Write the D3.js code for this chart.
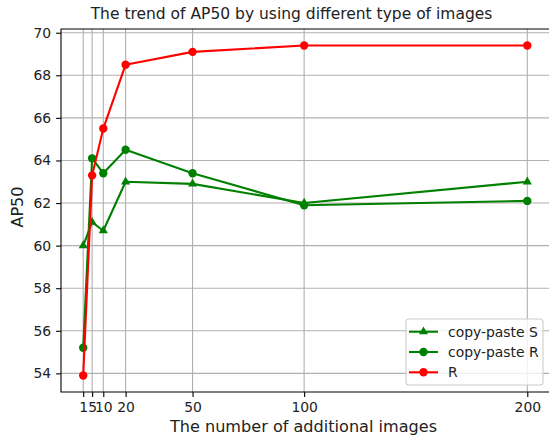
<!DOCTYPE html>
<html><head><meta charset="utf-8">
<script src="https://cdn.jsdelivr.net/npm/d3@7"></script>
<style>body{margin:0;background:#fff}svg{display:block}text{font-family:"DejaVu Sans",sans-serif;fill:#222}</style>
</head><body><svg id="c" width="549" height="436"></svg>
<script>
const xValues = [1, 5, 10, 20, 50, 100, 200];
const xTicks = [1, 5, 10, 20, 50, 100, 200];
const yTicks = [54, 56, 58, 60, 62, 64, 66, 68, 70];
const copyPasteS = [60.0, 61.1, 60.7, 63.0, 62.9, 62.0, 63.0];
const copyPasteR = [55.2, 64.1, 63.4, 64.5, 63.4, 61.9, 62.1];
const realR = [53.9, 63.3, 65.5, 68.5, 69.1, 69.4, 69.4];
const seriesNames = ["copy-paste S", "copy-paste R", "R"];

const svg = d3.select("#c");
const L = 61, R = 549.5, T = 29, B = 392;
const x = d3.scaleLinear().domain([-8.95, 209.95]).range([L, R]);
const y = d3.scaleLinear().domain([53.125, 70.175]).range([B, T]);

// grid
const g = svg.append("g");
g.selectAll(".gx").data(xTicks).enter().append("line")
  .attr("x1", d => x(d)).attr("x2", d => x(d)).attr("y1", T).attr("y2", B)
  .attr("stroke", "#b0b0b0").attr("stroke-width", 1.1);
g.selectAll(".gy").data(yTicks).enter().append("line")
  .attr("x1", L).attr("x2", R).attr("y1", d => y(d)).attr("y2", d => y(d))
  .attr("stroke", "#b0b0b0").attr("stroke-width", 1.1);

// series
const series = [
  {name: seriesNames[0], vals: copyPasteS, color: "#008000", marker: "tri"},
  {name: seriesNames[1], vals: copyPasteR, color: "#008000", marker: "circ"},
  {name: seriesNames[2], vals: realR, color: "#ff0000", marker: "circ"}
];
const line = d3.line().x((d, i) => x(xValues[i])).y(d => y(d));
function drawMarker(sel, type, color) {
  if (type === "circ") {
    sel.append("circle").attr("r", 4.2).attr("fill", color);
  } else {
    sel.append("path").attr("d", d3.symbol(d3.symbolTriangle, 36)()).attr("fill", color);
  }
}
series.forEach(s => {
  svg.append("path").datum(s.vals).attr("d", line).attr("fill", "none")
    .attr("stroke", s.color).attr("stroke-width", 2.1).attr("stroke-linejoin", "round");
  s.vals.forEach((v, i) => {
    const m = svg.append("g").attr("transform", `translate(${x(xValues[i])},${y(v)})`);
    drawMarker(m, s.marker, s.color);
  });
});

// axes
const xAxis = d3.axisBottom(x).tickValues(xTicks).tickSize(4.9).tickPadding(4.9).tickFormat(d3.format("d"));
const yAxis = d3.axisLeft(y).tickValues(yTicks).tickSize(4.9).tickPadding(4.9).tickFormat(d3.format("d"));
const gx = svg.append("g").attr("transform", `translate(0,${B})`).call(xAxis);
const gy = svg.append("g").attr("transform", `translate(${L},0)`).call(yAxis);
[gx, gy].forEach(a => {
  a.select(".domain").remove();
  a.selectAll("line").attr("stroke", "#000").attr("stroke-width", 1.1);
  a.selectAll("text").style("font-family", "DejaVu Sans").style("font-size", "13.9px").attr("fill", "#222");
});
// spines (right spine falls just outside the picture)
svg.append("path").attr("d", `M${R + 5},${T}H${L}V${B}H${R + 5}`)
  .attr("fill", "none").attr("stroke", "#000").attr("stroke-width", 1.1);

// title and labels
svg.append("text").attr("x", 291.5).attr("y", 19).attr("text-anchor", "middle")
  .style("font-size", "15.5px").text("The trend of AP50 by using different type of images");
svg.append("text").attr("x", 303.5).attr("y", 431.5).attr("text-anchor", "middle")
  .style("font-size", "16.1px").text("The number of additional images");
svg.append("text").attr("transform", "translate(23,207) rotate(-90)").attr("text-anchor", "middle")
  .style("font-size", "16.1px").text("AP50");

// legend
const lg = svg.append("g");
lg.append("rect").attr("x", 406).attr("y", 319).attr("width", 137).attr("height", 66).attr("rx", 3)
  .attr("fill", "#fff").attr("fill-opacity", 0.8).attr("stroke", "#cccccc").attr("stroke-width", 1.1);
series.forEach((s, i) => {
  const cy = 331.7 + i * 20.3;
  lg.append("line").attr("x1", 409).attr("x2", 438).attr("y1", cy).attr("y2", cy)
    .attr("stroke", s.color).attr("stroke-width", 2.1);
  const m = lg.append("g").attr("transform", `translate(423.5,${cy})`);
  drawMarker(m, s.marker, s.color);
  lg.append("text").attr("x", 448).attr("y", cy + 5).style("font-size", "13.9px").text(s.name);
});
</script></body></html>
